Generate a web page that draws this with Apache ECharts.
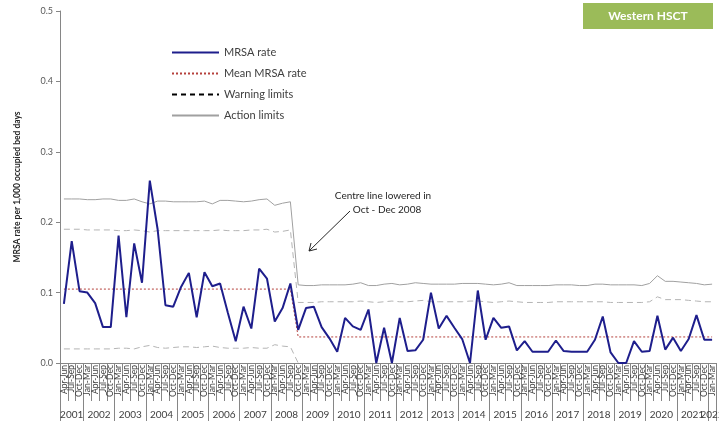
<!DOCTYPE html>
<html>
<head>
<meta charset="utf-8">
<script src="https://cdn.jsdelivr.net/npm/echarts@6/dist/echarts.min.js"></script>
<style>
  html, body { margin: 0; padding: 0; background: #fff; }
  #main { width: 719px; height: 424px; }
</style>
</head>
<body>
<div id="main"></div>
<script>
// quarters and years on the two-level x axis
var quarterNames = ['Jan-Mar', 'Apr-Jun', 'Jul-Sep', 'Oct-Dec'];
var years = ['2001', '2002', '2003', '2004', '2005', '2006', '2007', '2008', '2009', '2010', '2011',
  '2012', '2013', '2014', '2015', '2016', '2017', '2018', '2019', '2020', '2021', '2022'];
var firstQuarter = 1;   // 2001 starts at Apr-Jun
var lastQuarter = 0;    // 2022 ends at Jan-Mar

// MRSA rate per 1,000 occupied bed days
var mrsaRate = [0.084, 0.173, 0.102, 0.100, 0.085, 0.051, 0.051, 0.181, 0.065, 0.170,
  0.114, 0.259, 0.190, 0.082, 0.080, 0.108, 0.128, 0.065, 0.129, 0.109,
  0.113, 0.071, 0.031, 0.080, 0.049, 0.134, 0.120, 0.059, 0.078, 0.113,
  0.047, 0.078, 0.080, 0.051, 0.035, 0.016, 0.064, 0.052, 0.047, 0.076,
  0.000, 0.050, 0.000, 0.064, 0.017, 0.018, 0.033, 0.100, 0.049, 0.067,
  0.050, 0.034, 0.000, 0.103, 0.033, 0.064, 0.050, 0.052, 0.018, 0.031,
  0.016, 0.016, 0.016, 0.032, 0.017, 0.016, 0.016, 0.016, 0.033, 0.066,
  0.015, 0.000, 0.000, 0.031, 0.016, 0.017, 0.067, 0.019, 0.036, 0.017,
  0.034, 0.068, 0.033, 0.033];

var meanRate = [0.105, 0.105, 0.105, 0.105, 0.105, 0.105, 0.105, 0.105, 0.105, 0.105,
  0.105, 0.105, 0.105, 0.105, 0.105, 0.105, 0.105, 0.105, 0.105, 0.105,
  0.105, 0.105, 0.105, 0.105, 0.105, 0.105, 0.105, 0.105, 0.105, 0.105,
  0.037, 0.037, 0.037, 0.037, 0.037, 0.037, 0.037, 0.037, 0.037, 0.037,
  0.037, 0.037, 0.037, 0.037, 0.037, 0.037, 0.037, 0.037, 0.037, 0.037,
  0.037, 0.037, 0.037, 0.037, 0.037, 0.037, 0.037, 0.037, 0.037, 0.037,
  0.037, 0.037, 0.037, 0.037, 0.037, 0.037, 0.037, 0.037, 0.037, 0.037,
  0.037, 0.037, 0.037, 0.037, 0.037, 0.037, 0.037, 0.037, 0.037, 0.037,
  0.037, 0.037, 0.037, 0.037];

var upperWarning = [0.190, 0.190, 0.190, 0.189, 0.189, 0.189, 0.189, 0.188, 0.188, 0.189,
  0.188, 0.186, 0.188, 0.188, 0.188, 0.188, 0.188, 0.188, 0.188, 0.188,
  0.189, 0.188, 0.188, 0.188, 0.189, 0.189, 0.190, 0.186, 0.187, 0.189,
  0.086, 0.086, 0.086, 0.087, 0.087, 0.087, 0.087, 0.087, 0.088, 0.087,
  0.086, 0.087, 0.088, 0.087, 0.087, 0.088, 0.089, 0.087, 0.087, 0.087,
  0.087, 0.087, 0.088, 0.088, 0.087, 0.086, 0.087, 0.088, 0.087, 0.086,
  0.086, 0.086, 0.086, 0.087, 0.087, 0.087, 0.087, 0.087, 0.087, 0.087,
  0.086, 0.086, 0.086, 0.086, 0.086, 0.087, 0.094, 0.090, 0.090, 0.090,
  0.089, 0.088, 0.087, 0.087];

var lowerWarning = [0.020, 0.020, 0.020, 0.020, 0.020, 0.020, 0.020, 0.021, 0.021, 0.020,
  0.023, 0.025, 0.022, 0.021, 0.022, 0.023, 0.023, 0.022, 0.023, 0.024,
  0.022, 0.021, 0.021, 0.021, 0.022, 0.021, 0.021, 0.026, 0.024, 0.023,
  0.000];

var upperAction = [0.233, 0.233, 0.233, 0.232, 0.232, 0.233, 0.233, 0.231, 0.231, 0.233,
  0.229, 0.226, 0.230, 0.230, 0.229, 0.229, 0.229, 0.229, 0.230, 0.226,
  0.231, 0.231, 0.230, 0.229, 0.230, 0.232, 0.233, 0.224, 0.227, 0.229,
  0.111, 0.110, 0.110, 0.111, 0.111, 0.111, 0.111, 0.112, 0.114, 0.110,
  0.110, 0.112, 0.113, 0.111, 0.112, 0.114, 0.113, 0.112, 0.112, 0.112,
  0.112, 0.113, 0.113, 0.113, 0.112, 0.111, 0.112, 0.114, 0.110, 0.110,
  0.110, 0.110, 0.110, 0.111, 0.111, 0.111, 0.110, 0.110, 0.112, 0.112,
  0.111, 0.111, 0.111, 0.111, 0.110, 0.113, 0.124, 0.116, 0.116, 0.115,
  0.114, 0.113, 0.111, 0.112];

// build quarter categories, plus a half-quarter grid for the year level
var categories = [];
var yearSlots = [];       // 2 slots per quarter, +1 (boundaryGap false)
var yearBreaks = [0];
var yearPos = {};
years.forEach(function (y, k) {
  var from = k === 0 ? firstQuarter : 0;
  var to = k === years.length - 1 ? lastQuarter : 3;
  var start = categories.length;
  for (var q = from; q <= to; q++) categories.push(quarterNames[q]);
  var end = categories.length;
  yearBreaks.push(end * 2);
  yearPos[start + end] = y;   // centre of the year in half-quarters
});
for (var s = 0; s <= categories.length * 2; s++) yearSlots.push(yearPos[s] || '');

var axisGrey = '#868686';
var font = 'Lato, "Liberation Sans", sans-serif';

var myChart = echarts.init(document.getElementById('main'));
var options = {
  animation: false,
  textStyle: { fontFamily: font },
  grid: { left: 60, right: 3, top: 11, bottom: 61, outerBoundsMode: 'none' },
  legend: {
    orient: 'vertical',
    left: 166,
    top: 42,
    itemWidth: 47,
    itemHeight: 10,
    itemGap: 10,
    itemStyle: { opacity: 0 },
    textStyle: { fontSize: 11, color: '#404040', fontFamily: font },
    data: [
      { name: 'MRSA rate' },
      { name: 'Mean MRSA rate' },
      { name: 'Warning limits', lineStyle: { color: '#000', type: [5, 4] } },
      { name: 'Action limits', lineStyle: { width: 2 } }
    ]
  },
  xAxis: [{
    type: 'category',
    data: categories,
    position: 'bottom',
    axisLine: { lineStyle: { color: axisGrey } },
    axisTick: { show: true, interval: 0, length: 38, lineStyle: { color: axisGrey } },
    axisLabel: { interval: 0, rotate: 90, fontSize: 8.5, margin: 2, color: '#404040' },
    splitLine: { show: false }
  }, {
    type: 'category',
    data: yearSlots,
    boundaryGap: false,
    position: 'bottom',
    offset: 0,
    axisLine: { show: false },
    axisTick: {
      show: true,
      length: 58,
      lineStyle: { color: axisGrey },
      interval: function (index) { return yearBreaks.indexOf(index) >= 0; }
    },
    axisLabel: { interval: 0, fontSize: 10, margin: 47, color: '#404040' },
    splitLine: { show: false }
  }],
  yAxis: {
    type: 'value',
    min: 0,
    max: 0.5,
    interval: 0.1,
    name: 'MRSA rate per 1,000 occupied bed days',
    nameLocation: 'middle',
    nameGap: 38,
    nameTextStyle: { fontSize: 8.5, fontWeight: 'bold', color: '#262626' },
    axisLine: { show: true, lineStyle: { color: axisGrey } },
    axisTick: { show: true, length: 4, lineStyle: { color: axisGrey } },
    axisLabel: { fontSize: 9, color: '#595959', margin: 7,
      formatter: function (v) { return v.toFixed(1); } },
    splitLine: { show: false }
  },
  series: [{
    name: 'Action limits',
    type: 'line',
    data: upperAction,
    symbol: 'none',
    lineStyle: { color: '#a0a0a0', width: 1 },
    itemStyle: { color: '#a0a0a0' },
    z: 1
  }, {
    name: 'Warning limits',
    type: 'line',
    data: upperWarning,
    symbol: 'none',
    lineStyle: { color: '#b4b4b4', width: 1, type: [6, 4] },
    itemStyle: { color: '#b4b4b4' },
    z: 1
  }, {
    name: 'Warning limits',
    type: 'line',
    data: lowerWarning,
    symbol: 'none',
    lineStyle: { color: '#b4b4b4', width: 1, type: [6, 4] },
    itemStyle: { color: '#b4b4b4' },
    z: 1
  }, {
    name: 'Mean MRSA rate',
    type: 'line',
    data: meanRate,
    symbol: 'none',
    lineStyle: { color: '#b5403c', width: 1, type: [2, 2] },
    itemStyle: { color: '#b5403c' },
    z: 2
  }, {
    name: 'MRSA rate',
    type: 'line',
    data: mrsaRate,
    symbol: 'none',
    lineStyle: { color: '#1e1e8c', width: 2 },
    itemStyle: { color: '#1e1e8c' },
    z: 3
  }],
  graphic: [{
    type: 'rect',
    shape: { x: 583, y: 3, width: 130, height: 26 },
    style: { fill: '#9bbb59' }
  }, {
    type: 'text',
    x: 648, y: 16,
    style: { text: 'Western HSCT', fill: '#fff', fontSize: 12, fontWeight: 'bold',
      fontFamily: font, align: 'center', verticalAlign: 'middle' }
  }, {
    type: 'text',
    x: 383, y: 196,
    style: { text: 'Centre line lowered in', fill: '#262626', fontSize: 10,
      fontFamily: font, align: 'center', verticalAlign: 'middle' }
  }, {
    type: 'text',
    x: 387, y: 210,
    style: { text: 'Oct - Dec 2008', fill: '#262626', fontSize: 10,
      fontFamily: font, align: 'center', verticalAlign: 'middle' }
  }, {
    type: 'line',
    shape: { x1: 350, y1: 211, x2: 309, y2: 251 },
    style: { stroke: '#262626', lineWidth: 1 }
  }, {
    type: 'polyline',
    shape: { points: [[317, 249], [309, 251], [311, 243]] },
    style: { stroke: '#262626', lineWidth: 1, fill: null }
  }]
};
myChart.setOption(options);
window.onresize = myChart.resize;
</script>
</body>
</html>
